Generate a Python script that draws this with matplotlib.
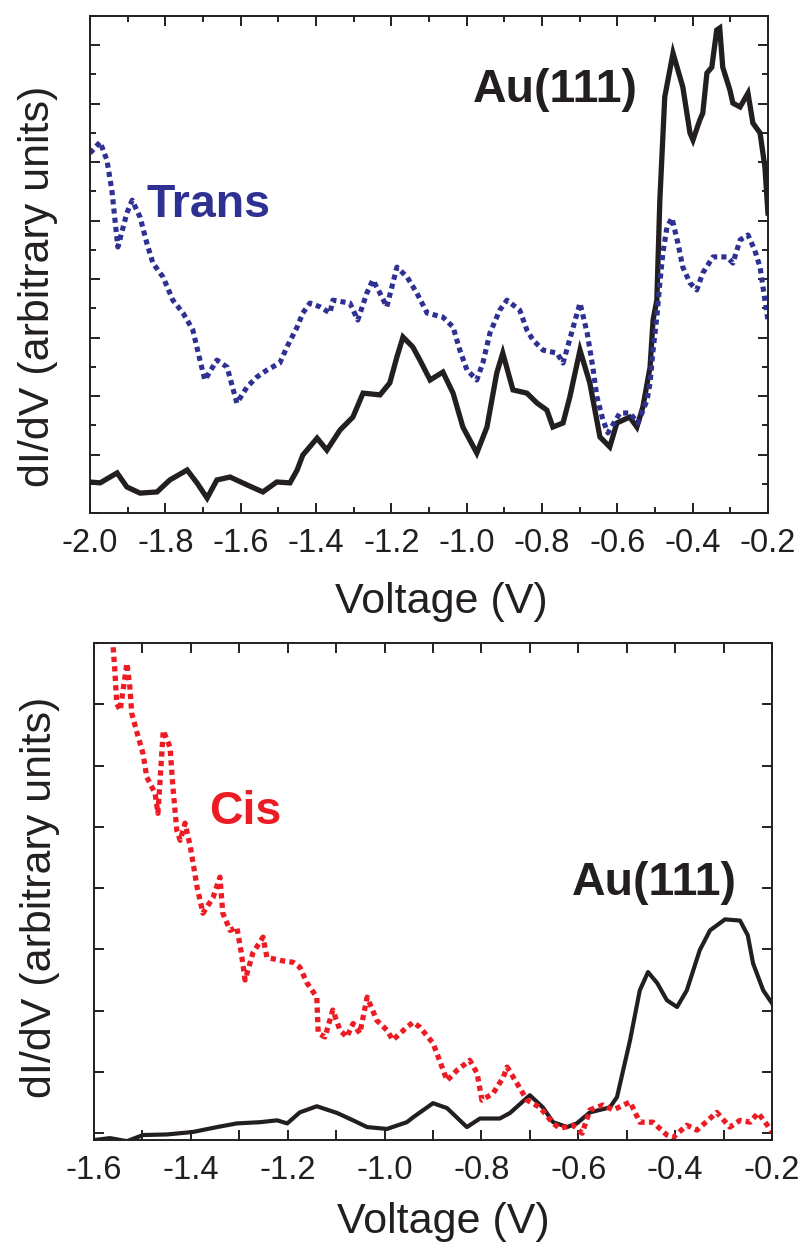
import numpy as np
import matplotlib.pyplot as plt
from matplotlib.ticker import MultipleLocator, NullFormatter

plt.rcParams['font.family'] = ['Liberation Sans', 'DejaVu Sans']
plt.rcParams['axes.unicode_minus'] = False

# --- top panel: Au(111) (solid) and Trans (dotted), voltage in V, dI/dV in arb. units
top_au_v = [-2.000, -1.973, -1.928, -1.902, -1.867, -1.822, -1.788, -1.742, -1.716, -1.689,
            -1.663, -1.628, -1.583, -1.541, -1.504, -1.469, -1.450, -1.435, -1.397, -1.371,
            -1.336, -1.302, -1.275, -1.230, -1.204, -1.185, -1.169, -1.143, -1.124, -1.097,
            -1.063, -1.036, -1.010, -0.973, -0.946, -0.920, -0.904, -0.877, -0.840, -0.813,
            -0.787, -0.771, -0.744, -0.726, -0.699, -0.673, -0.646, -0.620, -0.601, -0.567,
            -0.548, -0.532, -0.513, -0.505, -0.495, -0.487, -0.474, -0.452, -0.426, -0.407,
            -0.399, -0.381, -0.373, -0.362, -0.349, -0.336, -0.328, -0.320, -0.301, -0.293,
            -0.274, -0.253, -0.240, -0.221, -0.208, -0.200]
top_au_y = [1.06, 1.03, 1.37, 0.89, 0.68, 0.72, 1.13, 1.47, 1.03, 0.51,
            1.13, 1.23, 0.96, 0.72, 1.06, 1.03, 1.47, 1.98, 2.56, 2.15,
            2.84, 3.28, 4.10, 4.04, 4.45, 5.34, 6.02, 5.68, 5.23, 4.55,
            4.82, 4.10, 2.94, 2.05, 2.94, 4.79, 5.47, 4.21, 4.10, 3.76,
            3.52, 2.94, 3.08, 3.97, 5.57, 4.45, 2.60, 2.26, 3.08, 3.28,
            2.94, 3.63, 4.99, 6.60, 7.28, 10.70, 14.23, 15.73, 14.57, 13.00,
            12.76, 13.44, 13.68, 15.05, 15.25, 16.52, 16.59, 15.25, 14.47, 14.02,
            13.89, 14.36, 13.34, 13.00, 11.83, 10.26]

trans_v = [-2.000, -1.973, -1.955, -1.942, -1.926, -1.902, -1.888, -1.867, -1.849, -1.833,
           -1.806, -1.780, -1.753, -1.742, -1.727, -1.708, -1.695, -1.663, -1.636, -1.610,
           -1.583, -1.557, -1.530, -1.496, -1.477, -1.450, -1.435, -1.416, -1.389, -1.363,
           -1.355, -1.310, -1.289, -1.265, -1.249, -1.230, -1.212, -1.185, -1.158, -1.132,
           -1.105, -1.063, -1.036, -1.018, -0.999, -0.973, -0.957, -0.938, -0.912, -0.893,
           -0.859, -0.840, -0.824, -0.797, -0.760, -0.744, -0.717, -0.699, -0.680, -0.665,
           -0.654, -0.638, -0.625, -0.593, -0.567, -0.545, -0.521, -0.513, -0.505, -0.495,
           -0.487, -0.479, -0.468, -0.455, -0.439, -0.426, -0.407, -0.389, -0.373, -0.346,
           -0.309, -0.293, -0.274, -0.253, -0.235, -0.221, -0.208, -0.200]
trans_y = [12.31, 12.69, 12.07, 11.05, 9.10, 10.26, 10.70, 10.12, 9.23, 8.55,
           8.07, 7.28, 6.84, 6.60, 6.26, 5.23, 4.55, 5.23, 4.99, 3.76,
           4.31, 4.65, 4.89, 5.13, 5.68, 6.36, 6.84, 7.18, 7.05, 6.84,
           7.28, 7.18, 6.60, 7.52, 7.97, 7.52, 7.05, 8.41, 8.07, 7.52,
           6.84, 6.70, 6.36, 5.57, 4.89, 4.55, 5.13, 6.16, 6.94, 7.28,
           6.94, 6.26, 5.92, 5.57, 5.47, 5.13, 6.36, 7.18, 6.16, 4.99,
           3.97, 3.18, 2.74, 3.42, 3.42, 3.08, 3.86, 4.45, 5.57, 6.70,
           7.87, 8.89, 9.78, 10.09, 9.23, 8.41, 7.87, 7.63, 8.21, 8.76,
           8.76, 8.55, 9.34, 9.51, 8.99, 8.41, 7.28, 6.60]

# --- bottom panel: Au(111) (solid) and Cis (dotted)
bot_au_v = [-1.598, -1.567, -1.532, -1.499, -1.449, -1.396, -1.346, -1.305, -1.257, -1.222,
            -1.201, -1.175, -1.140, -1.098, -1.065, -1.036, -0.995, -0.954, -0.941, -0.900,
            -0.871, -0.830, -0.803, -0.762, -0.741, -0.700, -0.673, -0.652, -0.623, -0.603,
            -0.576, -0.535, -0.520, -0.493, -0.473, -0.456, -0.437, -0.417, -0.396, -0.376,
            -0.349, -0.328, -0.297, -0.266, -0.250, -0.239, -0.218, -0.200]
bot_au_y = [-0.11, -0.08, -0.13, -0.03, -0.02, 0.02, 0.10, 0.16, 0.18, 0.21,
            0.16, 0.34, 0.44, 0.33, 0.21, 0.10, 0.07, 0.18, 0.26, 0.49,
            0.41, 0.10, 0.24, 0.24, 0.33, 0.62, 0.42, 0.18, 0.10, 0.16,
            0.34, 0.42, 0.59, 1.52, 2.33, 2.63, 2.45, 2.17, 2.06, 2.33,
            2.99, 3.31, 3.49, 3.47, 3.23, 2.77, 2.33, 2.12]

cis_v = [-1.598, -1.580, -1.561, -1.557, -1.553, -1.546, -1.532, -1.526, -1.522, -1.511,
         -1.499, -1.491, -1.474, -1.468, -1.457, -1.443, -1.437, -1.429, -1.422, -1.412,
         -1.401, -1.387, -1.375, -1.354, -1.340, -1.334, -1.319, -1.305, -1.296, -1.288,
         -1.272, -1.251, -1.243, -1.216, -1.189, -1.175, -1.160, -1.140, -1.137, -1.123,
         -1.107, -1.092, -1.078, -1.065, -1.051, -1.036, -1.016, -0.995, -0.983, -0.954,
         -0.941, -0.927, -0.900, -0.879, -0.871, -0.850, -0.824, -0.809, -0.799, -0.776,
         -0.755, -0.747, -0.727, -0.706, -0.679, -0.652, -0.638, -0.611, -0.592, -0.576,
         -0.549, -0.528, -0.493, -0.473, -0.446, -0.417, -0.404, -0.376, -0.355, -0.314,
         -0.287, -0.266, -0.245, -0.229, -0.214, -0.200]
cis_y = [7.99, 8.40, 7.99, 7.55, 7.01, 6.90, 7.67, 7.28, 6.85, 6.53,
         6.20, 5.81, 5.55, 5.22, 6.57, 6.30, 5.64, 4.94, 4.78, 5.06,
         4.67, 4.01, 3.59, 3.85, 4.18, 3.59, 3.31, 3.36, 2.95, 2.50,
         2.94, 3.20, 2.87, 2.82, 2.79, 2.71, 2.45, 2.22, 1.63, 1.57,
         2.01, 1.68, 1.57, 1.79, 1.63, 2.22, 1.84, 1.68, 1.52, 1.73,
         1.81, 1.73, 1.47, 1.03, 0.86, 1.03, 1.19, 0.98, 0.54, 0.65,
         0.91, 1.08, 0.82, 0.54, 0.42, 0.16, 0.08, 0.13, 0.00, 0.38,
         0.46, 0.38, 0.51, 0.18, 0.18, -0.03, -0.07, 0.13, 0.05, 0.34,
         0.10, 0.21, 0.18, 0.33, 0.18, 0.02]

BLACK = '#231f20'
BLUE = '#2e3192'
RED = '#ed1c24'

fig = plt.figure(figsize=(8.07, 12.43), dpi=100)
ax1 = fig.add_axes([0.1115, 0.5873, 0.8401, 0.3998])
ax2 = fig.add_axes([0.1165, 0.0829, 0.8401, 0.3998])


def style_axes(ax, minor_len):
    for s in ax.spines.values():
        s.set_linewidth(1.4)
        s.set_color(BLACK)
    ax.tick_params(which='both', direction='in', top=True, right=True,
                   width=1.4, color=BLACK, labelsize=23.5, pad=11,
                   labelcolor=BLACK)
    ax.tick_params(which='major', length=7)
    ax.tick_params(which='minor', length=minor_len)
    ax.yaxis.set_major_formatter(NullFormatter())
    ax.yaxis.set_minor_formatter(NullFormatter())


# top
ax1.plot(top_au_v, top_au_y, color=BLACK, lw=3.8, solid_joinstyle='miter')
ax1.plot(trans_v, trans_y, color=BLUE, lw=3.7, dashes=(1.0, 0.8))
ax1.set_xlim(-2.0, -0.2)
ax1.set_ylim(0, 17)
ax1.xaxis.set_minor_locator(MultipleLocator(0.1))
ax1.yaxis.set_major_locator(MultipleLocator(2))
ax1.yaxis.set_minor_locator(MultipleLocator(1))
ax1.set_xticks(np.arange(-2.0, -0.15, 0.2))
ax1.set_xticklabels([f'{v:.1f}' for v in np.arange(-2.0, -0.15, 0.2)])
style_axes(ax1, 4)
ax1.text(-1.849, 10.12, 'Trans', color=BLUE, fontsize=33.5, fontweight='bold')
ax1.text(-0.983, 14.06, 'Au(111)', color=BLACK, fontsize=33.5, fontweight='bold')

# bottom
ax2.plot(bot_au_v, bot_au_y, color=BLACK, lw=3.0)
ax2.plot(cis_v, cis_y, color=RED, lw=3.8, dashes=(1.0, 0.8))
ax2.set_xlim(-1.6, -0.2)
ax2.set_ylim(-0.11, 8)
ax2.set_xticks(np.arange(-1.6, -0.15, 0.2))
ax2.set_xticklabels([f'{v:.1f}' for v in np.arange(-1.6, -0.15, 0.2)])
ax2.xaxis.set_minor_locator(MultipleLocator(0.1))
ax2.yaxis.set_major_locator(MultipleLocator(1))
style_axes(ax2, 7)
ax2.text(-1.363, 5.04, 'Cis', color=RED, fontsize=33.5, fontweight='bold')
ax2.text(-0.613, 3.88, 'Au(111)', color=BLACK, fontsize=33.5, fontweight='bold')

# axis titles
fig.text(0.047, 0.770, 'dI/dV (arbitrary units)', rotation=90, ha='center', va='center',
         fontsize=31, color=BLACK)
fig.text(0.0496, 0.2784, 'dI/dV (arbitrary units)', rotation=90, ha='center', va='center',
         fontsize=31, color=BLACK)
fig.text(0.5465, 0.5068, 'Voltage (V)', ha='center', va='baseline', fontsize=31, color=BLACK)
fig.text(0.549, 0.008, 'Voltage (V)', ha='center', va='baseline', fontsize=31, color=BLACK)

fig.savefig('out.png', dpi=100)
